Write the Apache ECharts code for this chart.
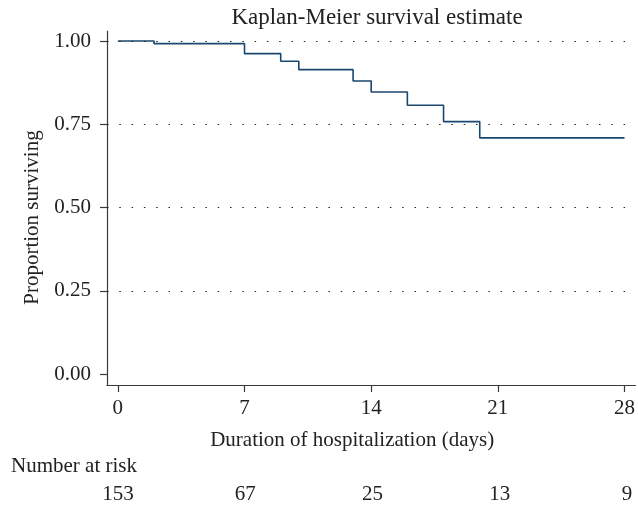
<!DOCTYPE html>
<html>
<head>
<meta charset="utf-8">
<script src="https://cdn.jsdelivr.net/npm/echarts@6/dist/echarts.min.js"></script>
<style>html,body{margin:0;padding:0;background:#fff;}#c{width:638px;height:509px;}</style>
</head>
<body>
<div id="c"></div>
<script>
var times = [0, 2, 7, 9, 10, 13, 14, 16, 18, 20, 28];
var survival = [1.0, 0.992, 0.962, 0.939, 0.914, 0.880, 0.847, 0.807, 0.758, 0.709, 0.709];
var xTicks = [0, 7, 14, 21, 28];
var yTicks = [0, 0.25, 0.5, 0.75, 1.0];
var gridLevels = [0.25, 0.5, 0.75, 1.0];
var riskTimes = [0, 7, 14, 21, 28];
var riskCounts = [153, 67, 25, 13, 9];

var FONT = '"Liberation Serif", "Times New Roman", serif';
var TXT = '#222';
var AX = '#3a3a3a';
var XMIN = -0.6, XMAX = 28.6;

var chart = echarts.init(document.getElementById('c'), null, {renderer: 'canvas'});
chart.setOption({
  animation: false,
  backgroundColor: '#fff',
  title: {
    text: 'Kaplan-Meier survival estimate',
    left: 372, top: 1, textAlign: 'center',
    textStyle: {fontFamily: FONT, fontSize: 23, fontWeight: 'normal', color: TXT}
  },
  graphic: [{
    type: 'text', left: 11, top: 456,
    style: {text: 'Number at risk', fontFamily: FONT, fontSize: 21, fill: TXT}
  }],
  grid: [
    {left: 107, right: 0, top: 31, bottom: 124, containLabel: false},
    {left: 107, right: 0, top: 484, height: 20, containLabel: false}
  ],
  xAxis: [{
    gridIndex: 0, type: 'value', min: XMIN, max: XMAX,
    name: 'Duration of hospitalization (days)', nameLocation: 'middle', nameGap: 45,
    nameTextStyle: {fontFamily: FONT, fontSize: 21, color: TXT, padding: [0, 38, 0, 0]},
    axisLine: {show: true, onZero: false, lineStyle: {color: AX, width: 1.2}},
    axisTick: {show: true, length: 7, inside: false, customValues: xTicks, lineStyle: {color: AX, width: 1.2}},
    axisLabel: {customValues: xTicks, margin: 13, fontFamily: FONT, fontSize: 21, color: TXT},
    splitLine: {show: false}
  }, {
    gridIndex: 1, type: 'value', min: XMIN, max: XMAX, show: false
  }],
  yAxis: [{
    gridIndex: 0, type: 'value', min: -0.033, max: 1.03,
    name: 'Proportion surviving', nameLocation: 'middle', nameGap: 63, nameRotate: 90,
    nameTextStyle: {fontFamily: FONT, fontSize: 21, color: TXT, padding: [0, 19, 0, 0]},
    axisLine: {show: true, onZero: false, lineStyle: {color: AX, width: 1.2}},
    axisTick: {show: true, length: 7, inside: false, customValues: yTicks, lineStyle: {color: AX, width: 1.2}},
    axisLabel: {customValues: yTicks, margin: 16, fontFamily: FONT, fontSize: 21, color: TXT,
      formatter: function (v) { return v.toFixed(2); }},
    splitLine: {show: false}
  }, {
    gridIndex: 1, type: 'value', min: 0, max: 1, show: false
  }],
  series: [{
    type: 'line', xAxisIndex: 0, yAxisIndex: 0, step: 'end', showSymbol: false, symbol: 'none',
    data: times.map(function (t, i) { return [t, survival[i]]; }),
    lineStyle: {color: '#1a476f', width: 1.6},
    markLine: {
      silent: true, symbol: ['none', 'none'], label: {show: false},
      lineStyle: {color: '#222', width: 1.2, type: [1.5, 10.8], opacity: 1},
      data: gridLevels.map(function (v) { return {yAxis: v}; })
    },
    z: 3
  }, {
    type: 'scatter', xAxisIndex: 1, yAxisIndex: 1, symbolSize: 1,
    itemStyle: {color: 'rgba(0,0,0,0)', opacity: 1},
    data: riskTimes.map(function (t, i) { return [t, 0.5, riskCounts[i]]; }),
    label: {show: true, position: 'inside', formatter: function (p) { return String(p.data[2]); },
      fontFamily: FONT, fontSize: 21, color: TXT, opacity: 1}
  }]
});
</script>
</body>
</html>
